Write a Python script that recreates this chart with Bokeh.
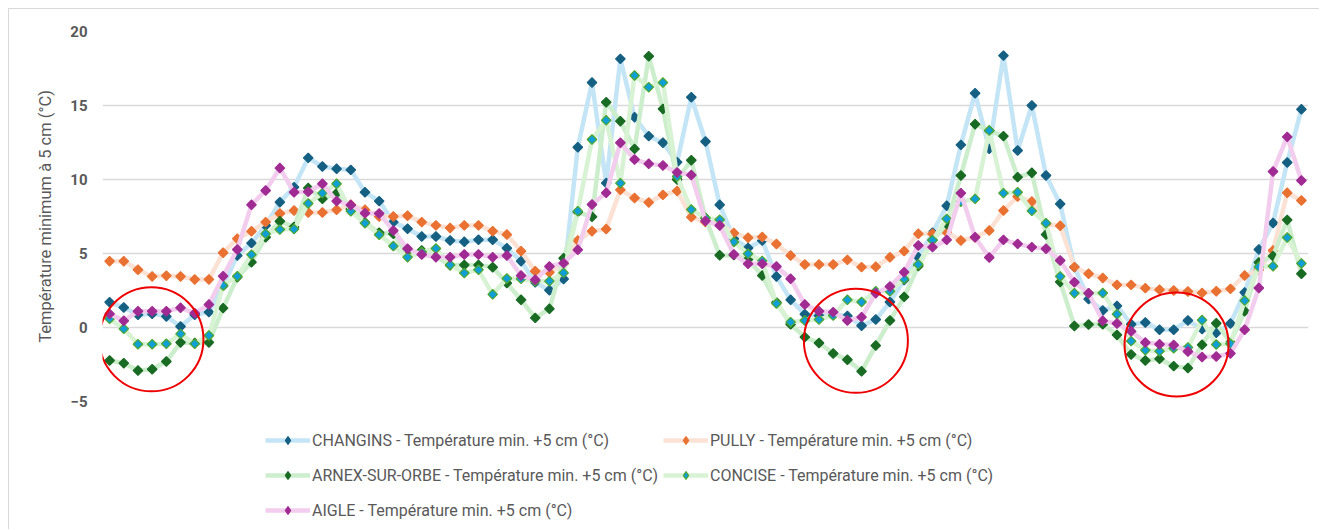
import math
from bokeh.plotting import figure
from bokeh.layouts import column
from bokeh.models import Range1d, Legend, LegendItem, FixedTicker
from bokeh.embed import file_html
from bokeh.resources import INLINE

days = list(range(85))

changins = [1.71, 1.35, 0.86, 0.92, 0.75, 0.07, 0.86, 1.04, 2.8, 4.86,
            5.7, 6.89, 8.47, 9.48, 11.46, 10.88, 10.72, 10.65, 9.14, 8.54,
            7.12, 6.67, 6.15, 6.15, 5.88, 5.79, 5.93, 5.93, 5.36, 4.48,
            3.05, 2.52, 3.28, 12.18, 16.55, 9.76, 18.15, 14.21, 12.93, 12.48,
            11.17, 15.56, 12.57, 8.29, 6.0, 5.37, 5.88, 3.45, 1.87, 0.9,
            0.8, 0.9, 0.78, 0.12, 0.54, 1.72, 3.2, 4.75, 6.4, 8.22,
            12.34, 15.83, 12.07, 18.37, 11.96, 15.0, 10.27, 8.35, 4.08, 1.92,
            1.15, 1.46, 0.22, 0.34, -0.15, -0.15, 0.47, -0.1, -0.36, 0.27,
            2.37, 5.27, 7.06, 11.15, 14.74]

pully = [4.48, 4.48, 3.9, 3.45, 3.5, 3.45, 3.25, 3.25, 5.05, 6.0,
         6.5, 7.12, 7.7, 7.9, 7.77, 7.77, 7.95, 8.3, 7.95, 7.5,
         7.5, 7.55, 7.12, 6.9, 6.73, 6.9, 6.9, 6.51, 6.28, 5.16,
         3.8, 3.72, 4.3, 5.88, 6.51, 6.65, 9.3, 8.75, 8.45, 8.96,
         9.23, 7.46, 7.12, 7.0, 6.38, 6.07, 6.12, 5.64, 4.86, 4.26,
         4.26, 4.26, 4.57, 4.08, 4.1, 4.74, 5.16, 6.33, 6.33, 6.44,
         5.88, 6.1, 6.55, 7.9, 8.85, 8.51, 7.0, 6.87, 4.08, 3.63,
         3.35, 2.88, 2.88, 2.66, 2.55, 2.5, 2.43, 2.34, 2.45, 2.61,
         3.51, 3.9, 5.2, 9.1, 8.58]

arnex = [-2.23, -2.41, -2.91, -2.82, -2.3, -1.01, -1.05, -1.01, 1.31, 3.4,
         4.41, 6.1, 7.18, 6.8, 9.42, 8.69, 9.08, 8.0, 7.1, 6.4,
         6.33, 4.9, 5.2, 4.8, 4.2, 4.23, 4.23, 4.07, 3.0, 1.87,
         0.65, 1.26, 4.68, 7.8, 7.48, 15.22, 13.94, 12.07, 18.33, 14.77,
         10.0, 11.3, 7.4, 4.88, 4.9, 4.6, 3.51, 1.7, 0.22, -0.65,
         -1.05, -1.76, -2.18, -2.96, -1.22, 0.47, 2.07, 4.15, 5.9, 7.0,
         10.27, 13.74, 13.3, 12.93, 10.16, 10.45, 6.28, 3.08, 0.1, 0.2,
         0.22, -0.5, -1.82, -2.23, -2.12, -2.61, -2.74, -1.17, 0.29, -1.0,
         1.1, 4.4, 4.82, 7.27, 3.63]

concise = [0.59, -0.09, -1.13, -1.13, -1.1, -0.43, -1.1, -0.54, 2.84, 3.46,
           4.92, 6.33, 6.62, 6.65, 8.38, 9.08, 9.71, 7.86, 7.05, 6.27,
           5.5, 4.75, 5.1, 5.34, 4.23, 3.68, 3.9, 2.24, 3.31, 3.29,
           3.13, 3.13, 3.69, 7.86, 12.7, 14.0, 9.75, 17.03, 16.24, 16.55,
           10.2, 7.97, 7.4, 7.28, 5.78, 4.98, 4.5, 1.62, 0.36, 0.47,
           0.54, 0.81, 1.87, 1.72, 2.45, 2.45, 3.28, 4.26, 5.9, 7.34,
           8.5, 8.69, 13.31, 9.08, 9.14, 7.88, 7.05, 3.45, 2.32, 2.32,
           2.33, 0.9, -0.92, -1.53, -1.6, -1.4, -1.35, 0.5, -1.15, -1.1,
           1.82, 4.1, 4.14, 6.08, 4.33]

aigle = [0.92, 0.45, 1.1, 1.1, 1.1, 1.33, 0.97, 1.55, 3.47, 5.27,
         8.29, 9.26, 10.77, 9.14, 9.17, 9.71, 8.54, 8.27, 7.72, 7.7,
         6.55, 5.32, 4.93, 4.75, 4.75, 4.93, 4.93, 4.75, 4.86, 3.51,
         3.22, 4.12, 4.35, 5.25, 8.31, 9.1, 12.48, 11.35, 11.06, 10.95,
         10.48, 10.3, 7.2, 6.89, 4.93, 4.3, 4.3, 4.12, 3.29, 1.55,
         1.1, 1.04, 0.47, 0.7, 2.32, 2.77, 3.74, 5.54, 5.43, 5.92,
         9.08, 6.1, 4.73, 5.92, 5.65, 5.43, 5.32, 4.53, 3.06, 2.32,
         0.45, 0.27, -0.26, -1.02, -1.13, -1.18, -1.62, -2.0, -1.96, -1.75,
         -0.15, 2.67, 10.54, 12.88, 9.93]

labels = ["CHANGINS - Température min. +5 cm (°C)",
          "PULLY - Température min. +5 cm (°C)",
          "ARNEX-SUR-ORBE - Température min. +5 cm (°C)",
          "CONCISE - Température min. +5 cm (°C)",
          "AIGLE - Température min. +5 cm (°C)"]

y_ticks = [-5, 0, 5, 10, 15, 20]

# highlighted zones (red circles)
highlight_x = [2.95, 52.6, 75.2]
highlight_y = [-0.8, -0.9, -1.15]

series = [
    (changins, "#c4e5f6", "#156082", "#156082"),
    (pully, "#fbe2d4", "#e97132", "#e97132"),
    (arnex, "#cdeecd", "#196b24", "#196b24"),
    (concise, "#d8f2d4", "#0f9ed5", "#4ea72e"),
    (aigle, "#f2cdee", "#a02b93", "#a02b93"),
]

TXT = "#595959"
FONT = "Roboto"
LINE_W = 4.5
MARK_SIZE = 6.8

p = figure(width=1310, height=404, output_backend="svg", toolbar_location=None,
           x_range=Range1d(-0.5, 84.5), y_range=Range1d(-5, 20),
           x_axis_location=None,
           min_border_left=93, min_border_right=11, min_border_top=22,
           min_border_bottom=12)
p.outline_line_color = None
p.xgrid.grid_line_color = None
p.ygrid.grid_line_color = "#d9d9d9"
p.ygrid.grid_line_width = 1.5

ya = p.yaxis[0]
ya.ticker = FixedTicker(ticks=y_ticks)
ya.axis_line_color = None
ya.major_tick_line_color = None
ya.minor_tick_line_color = None
ya.major_label_standoff = 9
ya.major_label_text_font = FONT
ya.major_label_text_font_style = "bold"
ya.major_label_text_font_size = "15px"
ya.major_label_text_color = TXT
ya.axis_label = "Température minimum à 5 cm (°C)"
ya.axis_label_text_font = FONT
ya.axis_label_text_font_style = "normal"
ya.axis_label_text_font_size = "16.5px"
ya.axis_label_text_color = TXT
ya.axis_label_standoff = 12

for vals, lc, mfill, mline in series:
    p.line(x=days, y=vals, line_color=lc, line_width=LINE_W, line_join="round")
    p.scatter(x=days, y=vals, marker="square", angle=math.pi / 4, size=MARK_SIZE,
              fill_color=mfill, line_color=mline, line_width=1.2)

p.scatter(x=highlight_x, y=highlight_y, marker="circle", size=104,
          fill_alpha=0, line_color="#ee0000", line_width=2)

# legend panel (separate canvas so that it is not clipped)
lg = figure(width=1310, height=116, output_backend="svg", toolbar_location=None,
            x_range=Range1d(0, 1), y_range=Range1d(0, 1),
            x_axis_location=None, y_axis_location=None, min_border=0)
lg.outline_line_color = None
lg.grid.visible = False

# swatch-only renderers, placed outside the visible range of the legend canvas
swatch_x = [-100, -99]
swatch_y = [-100, -100]

items = []
for (vals, lc, mfill, mline), lab in zip(series, labels):
    rl = lg.line(x=swatch_x, y=swatch_y, line_color=lc, line_width=LINE_W)
    rm = lg.scatter(x=swatch_x, y=swatch_y, marker="diamond",
                    size=10, fill_color=mfill, line_color=mline, line_width=1.2)
    items.append(LegendItem(label=lab, renderers=[rl, rm]))

legend = Legend(items=items, location=(163, 4), orientation="horizontal", ncols=2,
                label_text_font=FONT, label_text_font_size="16px", label_text_color=TXT,
                glyph_width=45, glyph_height=20, label_height=30, label_standoff=2,
                spacing=5, padding=0, margin=0,
                background_fill_alpha=0, border_line_color=None)
lg.add_layout(legend)

layout = column(p, lg, spacing=0)
layout.styles = {"margin-left": "8px", "margin-top": "8px",
                 "border-left": "1px solid #d9d9d9", "border-top": "1px solid #d9d9d9"}

open("out.html", "w").write(file_html(layout, INLINE))
